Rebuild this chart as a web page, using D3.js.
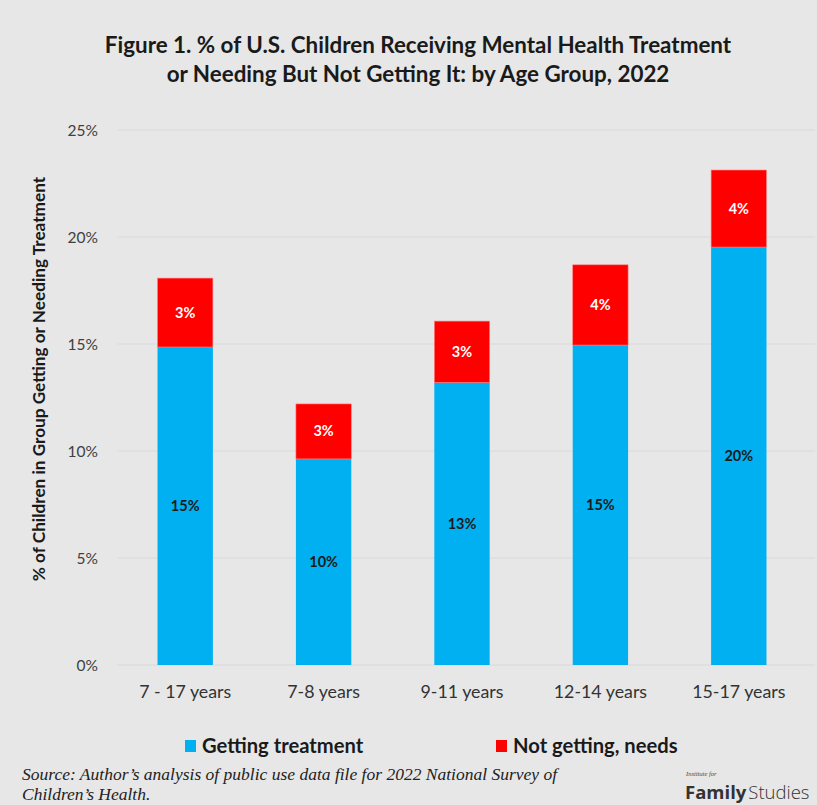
<!DOCTYPE html>
<html><head><meta charset="utf-8">
<script src="https://cdn.jsdelivr.net/npm/d3@7"></script>
<style>html,body{margin:0;padding:0;background:#e7e7e7;}svg{display:block;}</style>
</head><body>
<script>
const categories = ["7 - 17 years","7-8 years","9-11 years","12-14 years","15-17 years"];
const getting = [14.86, 9.63, 13.2, 14.95, 19.53];
const notGetting = [3.22, 2.57, 2.87, 3.75, 3.6];
const yTicks = [0,5,10,15,20,25];
const seriesNames = ["Getting treatment","Not getting, needs"];
const colors = ["#00b0f0","#ff0000"];

const W=817,H=805;
const svg=d3.select("body").append("svg").attr("width",W).attr("height",H);
svg.append("rect").attr("width",W).attr("height",H).attr("fill","#e7e7e7");

const x=d3.scaleBand().domain(categories).range([116,808]).paddingInner(0.6).paddingOuter(0.3);
const y=d3.scaleLinear().domain([0,25]).range([665,130]);

// title
const title=svg.append("text").attr("text-anchor","middle").attr("font-family","Lato, 'Open Sans', sans-serif").attr("font-weight","bold").attr("font-size",22.4).attr("fill","#1a1a1a");
title.append("tspan").attr("x",418).attr("y",53).text("Figure 1. % of U.S. Children Receiving Mental Health Treatment");
title.append("tspan").attr("x",418).attr("y",82).text("or Needing But Not Getting It: by Age Group, 2022");

// grid
svg.append("g").selectAll("line").data(yTicks).join("line")
 .attr("x1",117).attr("x2",815).attr("y1",d=>y(d)).attr("y2",d=>y(d))
 .attr("stroke","#d9d9d9").attr("stroke-width",1);

// y axis
const yAxis=d3.axisLeft(y).tickValues(yTicks).tickFormat(d=>d+"%").tickSize(0).tickPadding(0);
const ya=svg.append("g").attr("transform","translate(98,0)").call(yAxis);
ya.select(".domain").remove();
ya.selectAll("text").attr("font-family","Lato, 'Open Sans', sans-serif").attr("font-size",15.5).attr("fill","#404040").attr("dy","0.35em");

svg.append("text").attr("transform","translate(45,379) rotate(-90)").attr("text-anchor","middle")
 .attr("font-family","Lato, 'Open Sans', sans-serif").attr("font-weight","bold").attr("font-size",17.2).attr("fill","#1a1a1a")
 .text("% of Children in Group Getting or Needing Treatment");

// x axis
const xAxis=d3.axisBottom(x).tickSize(0).tickPadding(0);
const xa=svg.append("g").attr("transform","translate(0,692)").call(xAxis);
xa.select(".domain").remove();
xa.selectAll("text").attr("font-family","Lato, 'Open Sans', sans-serif").attr("font-size",17.8).attr("fill","#333").attr("dy","0.35em");

// bars
const data=categories.map((c,i)=>({c,g:getting[i],n:notGetting[i]}));
const bars=svg.append("g");
bars.selectAll("rect.g").data(data).join("rect").attr("class","g")
 .attr("x",d=>x(d.c)).attr("width",x.bandwidth()).attr("y",d=>y(d.g)).attr("height",d=>y(0)-y(d.g))
 .attr("fill",colors[0]);
bars.selectAll("rect.n").data(data).join("rect").attr("class","n")
 .attr("x",d=>x(d.c)).attr("width",x.bandwidth()).attr("y",d=>y(d.g+d.n)).attr("height",d=>y(d.g)-y(d.g+d.n))
 .attr("fill",colors[1]).attr("stroke","#ff8080").attr("stroke-width",0.6);

const lab=svg.append("g").attr("font-family","Lato, 'Open Sans', sans-serif").attr("font-weight","bold").attr("font-size",14.5).attr("text-anchor","middle");
lab.selectAll("text.g").data(data).join("text").attr("class","g")
 .attr("x",d=>x(d.c)+x.bandwidth()/2).attr("y",d=>(y(0)+y(d.g))/2).attr("dy","0.35em").attr("fill","#1a1a1a")
 .text(d=>Math.round(d.g)+"%");
lab.selectAll("text.n").data(data).join("text").attr("class","n")
 .attr("x",d=>x(d.c)+x.bandwidth()/2).attr("y",d=>(y(d.g)+y(d.g+d.n))/2).attr("dy","0.35em").attr("fill","#fff")
 .text(d=>Math.round(d.n)+"%");

// legend
const legX=[185,496];
const leg=svg.append("g");
seriesNames.forEach((s,i)=>{
  leg.append("rect").attr("x",legX[i]).attr("y",740).attr("width",11).attr("height",12).attr("fill",colors[i]);
  leg.append("text").attr("x",legX[i]+17).attr("y",746).attr("dy","0.35em")
   .attr("font-family","Lato, 'Open Sans', sans-serif").attr("font-weight","bold").attr("font-size",20.2).attr("fill","#1a1a1a").text(s);
});

// source
const src=svg.append("text").attr("font-family","'Liberation Serif', 'Times New Roman', serif").attr("font-style","italic").attr("font-size",17.5).attr("fill","#222");
src.append("tspan").attr("x",22).attr("y",780).text("Source: Author\u2019s analysis of public use data file for 2022 National Survey of");
src.append("tspan").attr("x",22).attr("y",800).text("Children\u2019s Health.");

// logo
svg.append("text").attr("x",686).attr("y",776).attr("font-family","'Liberation Serif', serif").attr("font-style","italic").attr("font-size",6.5).attr("fill","#444").text("Institute for");
const logo=svg.append("text").attr("x",685).attr("y",799).attr("font-family","'Open Sans', sans-serif").attr("font-size",18.5).attr("fill","#333");
logo.append("tspan").attr("font-weight","bold").text("Family");
logo.append("tspan").attr("font-weight","300").attr("dx",2).text("Studies");
</script>
</body></html>
